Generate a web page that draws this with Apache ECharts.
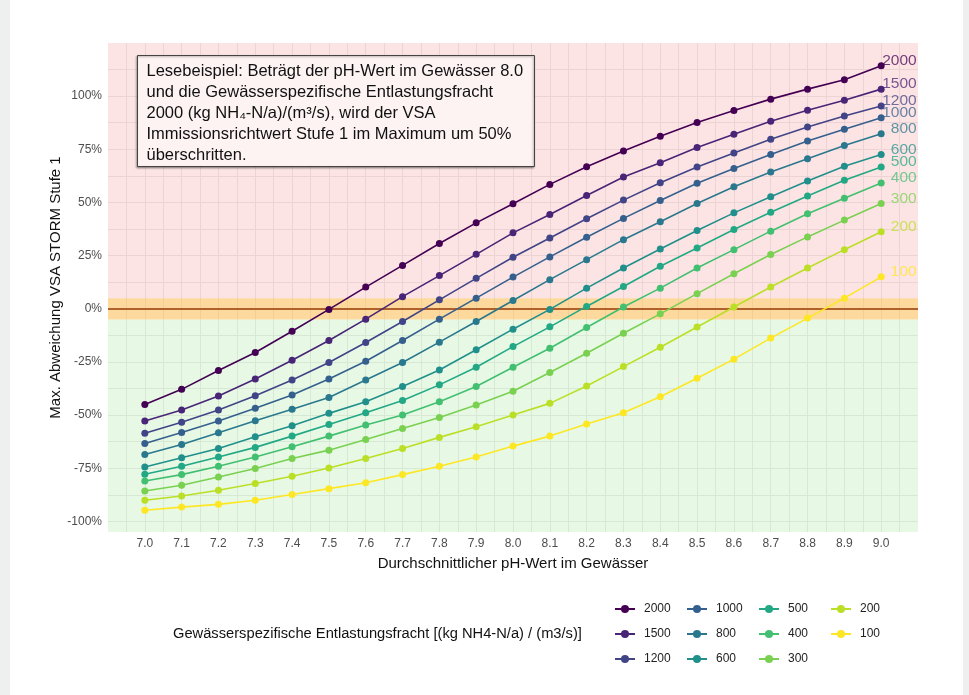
<!DOCTYPE html>
<html><head><meta charset="utf-8">
<script src="https://cdn.jsdelivr.net/npm/echarts@6/dist/echarts.min.js"></script>
<style>html,body{margin:0;padding:0;background:#fff}#c{width:969px;height:695px}</style>
</head><body><div id="c"></div>
<script>
// ---- data ----
const phValues = [7.0,7.1,7.2,7.3,7.4,7.5,7.6,7.7,7.8,7.9,8.0,8.1,8.2,8.3,8.4,8.5,8.6,8.7,8.8,8.9,9.0];
const xTickLabels = ['7.0','7.1','7.2','7.3','7.4','7.5','7.6','7.7','7.8','7.9','8.0','8.1','8.2','8.3','8.4','8.5','8.6','8.7','8.8','8.9','9.0'];
const yTickValues = [-100,-75,-50,-25,0,25,50,75,100];
const yTickLabels = ['-100%','-75%','-50%','-25%','0%','25%','50%','75%','100%'];
const loadNames = ['2000','1500','1200','1000','800','600','500','400','300','200','100'];
const v2000 = [-45.0,-37.9,-29.0,-20.6,-10.6,-0.3,10.2,20.4,30.7,40.4,49.4,58.5,66.8,74.2,81.1,87.6,93.2,98.6,103.3,107.7,114.3];
const v1500 = [-52.8,-47.6,-41.0,-33.0,-24.2,-14.9,-4.9,5.7,15.6,25.6,35.7,44.3,53.3,62.0,68.7,75.8,82.1,88.2,93.4,98.1,103.3];
const v1200 = [-58.6,-53.4,-47.6,-40.9,-33.5,-25.3,-15.9,-6.0,4.2,14.3,24.2,33.3,42.3,51.1,59.3,66.7,73.3,79.7,85.5,90.7,95.4];
const v1000 = [-63.4,-58.2,-52.8,-46.8,-40.6,-33.0,-24.7,-14.9,-4.9,5.0,14.9,24.4,33.6,42.5,50.9,59.0,66.0,72.6,78.9,84.4,89.8];
const v800  = [-68.5,-63.8,-58.3,-52.7,-47.3,-41.7,-33.5,-25.3,-15.7,-6.0,3.9,13.7,23.1,32.5,40.9,49.5,57.4,64.3,70.6,76.8,82.3];
const v600  = [-74.4,-70.1,-65.7,-60.2,-55.0,-49.2,-43.7,-36.6,-28.8,-19.3,-9.6,-0.3,9.7,19.2,28.1,36.8,45.1,52.7,60.1,67.0,72.6];
const v500  = [-77.8,-74.1,-69.7,-65.2,-59.9,-54.4,-48.9,-43.2,-35.8,-27.5,-17.8,-8.5,1.1,10.5,20.0,28.6,37.3,45.4,53.0,60.4,66.7];
const v400  = [-81.0,-78.0,-74.1,-69.7,-64.9,-59.9,-54.7,-50.0,-43.7,-36.6,-27.5,-18.6,-8.8,0.8,9.7,19.2,27.8,36.5,44.7,52.0,59.2];
const v300  = [-85.7,-83.0,-79.1,-75.1,-70.4,-66.5,-61.5,-56.3,-51.1,-45.3,-38.8,-30.0,-20.9,-11.5,-2.4,7.1,16.5,25.5,33.8,41.7,49.5];
const v200  = [-90.1,-88.1,-85.4,-82.2,-78.8,-74.9,-70.4,-65.7,-60.5,-55.5,-50.0,-44.5,-36.3,-27.2,-18.1,-8.6,0.8,10.2,19.2,27.8,36.2];
const v100  = [-94.8,-93.3,-92.0,-90.1,-87.4,-84.6,-81.8,-78.0,-74.1,-69.7,-64.6,-59.9,-54.2,-48.9,-41.4,-32.7,-23.7,-13.8,-4.4,5.0,15.0];
const seriesValues = [v2000,v1500,v1200,v1000,v800,v600,v500,v400,v300,v200,v100];
const legendCols = [['2000','1500','1200'],['1000','800','600'],['500','400','300'],['200','100']];
const bandLow = -5, bandHigh = 5, zeroLine = 0;
const xMin = 6.9, xMax = 9.1, yMin = -105, yMax = 125;

// ---- styles ----
const colors = ['#440154','#482576','#414487','#35608D','#2A788E','#21908C','#22A884','#43BF71','#7AD151','#BBDF27','#FDE725'];
const FONT = 'Liberation Sans, Arial, Helvetica, sans-serif';

const xGrid = []; for (let k = 0; 6.95 + k*0.05 < 9.06; k++) xGrid.push(+(6.95 + k*0.05).toFixed(2));
const yGrid = []; for (let k = 0; -100 + k*12.5 <= 112.5; k++) yGrid.push(-100 + k*12.5);

const chart = echarts.init(document.getElementById('c'), null, {renderer:'canvas'});

const dataSeries = loadNames.map((n, i) => ({
  name: n, type: 'line', z: 3,
  data: phValues.map((x, j) => [x, seriesValues[i][j]]),
  symbol: 'circle', symbolSize: 7, showSymbol: true,
  itemStyle: {color: colors[i]},
  lineStyle: {width: 1.6, color: colors[i]},
  emphasis: {disabled: true}, animation: false,
  label: {
    show: true, position: 'right', distance: 0, align: 'right', offset: [32, -5],
    fontFamily: FONT, fontSize: 15.5, color: colors[i], opacity: 0.75,
    formatter: p => p.dataIndex === phValues.length - 1 ? p.seriesName : ''
  }
}));

const helper = {
  name: '_bg', type: 'line', data: [], z: 1, silent: true, animation: false,
  markArea: {
    silent: true, z: 1,
    data: [
      [{yAxis: bandHigh, itemStyle: {color: 'rgba(248,140,140,0.23)'}}, {yAxis: yMax}],
      [{yAxis: bandLow, itemStyle: {color: 'rgba(252,180,60,0.5)'}}, {yAxis: bandHigh}],
      [{yAxis: yMin, itemStyle: {color: 'rgba(140,225,130,0.21)'}}, {yAxis: bandLow}]
    ]
  },
  markLine: {
    silent: true, z: 1, symbol: 'none', animation: false,
    lineStyle: {color: '#b0602a', width: 2, type: 'solid'},
    label: {show: false},
    data: [{yAxis: zeroLine}]
  }
};

const option = {
  animation: false,
  backgroundColor: '#fff',
  textStyle: {fontFamily: FONT},
  grid: {left: 108, right: 51, top: 43, bottom: 163, containLabel: false},
  xAxis: {
    type: 'value', min: xMin, max: xMax,
    name: 'Durchschnittlicher pH-Wert im Gewässer', nameLocation: 'middle', nameGap: 24,
    nameMoveOverlap: false,
    nameTextStyle: {fontSize: 15, color: '#111', fontFamily: FONT},
    axisLine: {show: false},
    axisTick: {show: false, customValues: xGrid},
    axisLabel: {customValues: phValues, margin: 6, fontSize: 12, color: '#4d4d4d', fontFamily: FONT,
      formatter: v => { const i = phValues.findIndex(p => Math.abs(p - v) < 1e-6); return i >= 0 ? xTickLabels[i] : ''; }},
    splitLine: {show: true, lineStyle: {color: '#ebebeb', width: 1}}
  },
  yAxis: {
    type: 'value', min: yMin, max: yMax,
    name: 'Max. Abweichung VSA STORM Stufe 1', nameLocation: 'middle', nameGap: 45,
    nameMoveOverlap: false,
    nameTextStyle: {fontSize: 15, color: '#111', fontFamily: FONT},
    axisLine: {show: false},
    axisTick: {show: false, customValues: yGrid},
    axisLabel: {customValues: yTickValues, margin: 6, fontSize: 12, color: '#4d4d4d', fontFamily: FONT,
      formatter: v => { const i = yTickValues.indexOf(v); return i >= 0 ? yTickLabels[i] : ''; }},
    splitLine: {show: true, lineStyle: {color: '#ebebeb', width: 1}}
  },
  title: {
    text: 'Gewässerspezifische Entlastungsfracht [(kg NH4-N/a) / (m3/s)]',
    left: 168, top: 621,
    textStyle: {fontSize: 14.7, fontWeight: 'normal', color: '#111', fontFamily: FONT}
  },
  legend: legendCols.map((col, i) => ({
    data: col, orient: 'vertical', left: 609 + i*72, top: 597,
    itemWidth: 20, itemHeight: 10, itemGap: 11,
    textStyle: {fontSize: 12, color: '#222', lineHeight: 14, fontFamily: FONT, padding: [0,0,0,4]},
    selectedMode: false
  })),
  graphic: [
    {type: 'rect', left: 0, top: 0, z: 100, shape: {width: 10, height: 695}, style: {fill: '#eef0f0'}, silent: true},
    {type: 'rect', left: 963, top: 0, z: 100, shape: {width: 6, height: 695}, style: {fill: '#eef0f0'}, silent: true},
    {type: 'group', left: 137, top: 55, z: 100, children: [
      {type: 'rect', z: 100, shape: {x: 0, y: 0, width: 397, height: 111},
       style: {fill: '#fdf3f3', stroke: '#444', lineWidth: 1,
               shadowBlur: 2, shadowOffsetX: -1, shadowOffsetY: 1, shadowColor: 'rgba(0,0,0,0.35)'}},
      {type: 'text', z: 101, x: 9, y: 5, style: {
        text: 'Lesebeispiel: Beträgt der pH-Wert im Gewässer 8.0\nund die Gewässerspezifische Entlastungsfracht\n2000 (kg NH₄-N/a)/(m³/s), wird der VSA\nImmissionsrichtwert Stufe 1 im Maximum um 50%\nüberschritten.',
        font: '16.5px ' + FONT, fill: '#111', lineHeight: 21}}
    ]}
  ],
  series: [helper, ...dataSeries]
};
chart.setOption(option);
</script></body></html>
